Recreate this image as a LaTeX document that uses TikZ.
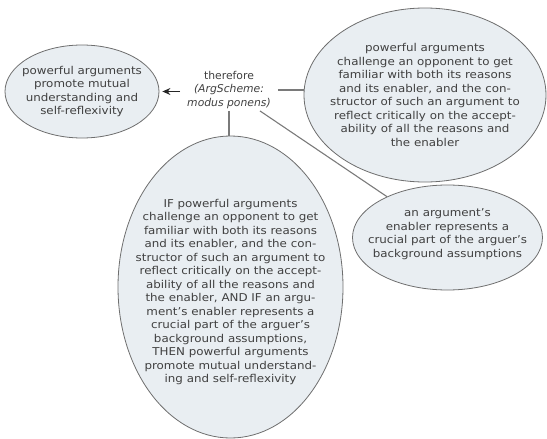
\documentclass[tikz,border=0pt]{standalone}
\usepackage{fontspec}
\setmainfont[FakeStretch=1.1]{DejaVu Sans}
\newfontfamily\plainfam{DejaVu Sans}
\usetikzlibrary{shapes.geometric,arrows.meta}
\definecolor{ellfill}{HTML}{E9EEF2}
\definecolor{elldraw}{HTML}{6E6E6E}
\definecolor{txtcol}{HTML}{404040}
\definecolor{linecol}{HTML}{7A7A7A}
\tikzset{
  ell/.style={ellipse, draw=elldraw, fill=ellfill, line width=0.8pt, inner sep=0pt},
  txt/.style={align=center, text=txtcol, font=\fontsize{10.8}{13.5}\selectfont, inner sep=0pt},
  conn/.style={draw=linecol, line width=1.1pt},
  arr/.style={draw=black!85, line width=1.1pt, -{Stealth[length=8pt,width=7pt]}, shorten >=3pt}
}
\begin{document}
\begin{tikzpicture}[x=1pt,y=-1pt]
\useasboundingbox (0,0) rectangle (547,439);
% ellipses
\node[ell, minimum width=154pt, minimum height=93pt] (L) at (82,91.5) {};
\node[ell, minimum width=242pt, minimum height=174pt] (R1) at (425,95) {};
\node[ell, minimum width=190pt, minimum height=105pt] (R2) at (447.5,237.5) {};
\node[ell, minimum width=225pt, minimum height=302pt] (B) at (230.5,287) {};
% texts
\node[txt] (Lt) at (L) {powerful arguments\\promote mutual\\understanding and\\self-reflexivity};
\node[txt] (R1t) at (425,95) {powerful arguments\\challenge an opponent to get\\familiar with both its reasons\\and its enabler, and the con-\\structor of such an argument to\\reflect critically on the accept-\\ability of all the reasons and\\the enabler};
\node[txt] (R2t) at (447.5,234) {an argument's\\enabler represents a\\crucial part of the arguer's\\background assumptions};
\node[txt] (Bt) at (230.5,292) {IF powerful arguments\\challenge an opponent to get\\familiar with both its reasons\\and its enabler, and the con-\\structor of such an argument to\\reflect critically on the accept-\\ability of all the reasons and\\the enabler, AND IF an argu-\\ment's enabler represents a\\crucial part of the arguer's\\background assumptions,\\THEN powerful arguments\\promote mutual understand-\\ing and self-reflexivity};
\node[txt, font=\plainfam\fontsize{10.8}{13.5}\selectfont, inner xsep=7pt, inner ysep=2pt] (T) at (229,90) {therefore\\\textit{(ArgScheme:}\\\textit{modus ponens)}};
% connectors
\draw[arr] (T.west |- L.east) -- (L.east);
\draw[conn] (T.east) -- (T.east -| R1.west);
\draw[conn] (T.south) -- (T.south |- B.north);
\draw[conn] (T) -- (R2);
\end{tikzpicture}
\end{document}
